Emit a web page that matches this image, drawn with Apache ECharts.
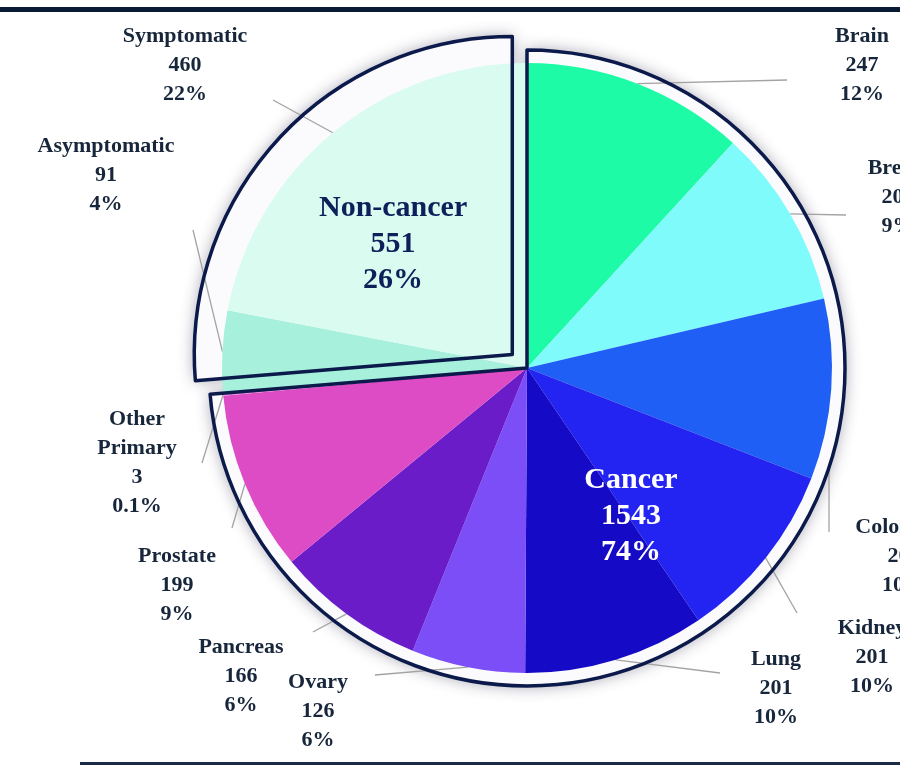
<!DOCTYPE html>
<html>
<head>
<meta charset="utf-8">
<script src="https://cdn.jsdelivr.net/npm/echarts@6/dist/echarts.min.js"></script>
<style>
  html, body { margin: 0; padding: 0; background: #fff; }
  #chart { width: 900px; height: 769px; }
</style>
</head>
<body>
<div id="chart"></div>
<script>
// slices, clockwise from 12 o'clock
const categories = ['Brain', 'Breast', 'Colorectal', 'Kidney', 'Lung', 'Ovary', 'Pancreas', 'Prostate', 'Other Primary', 'Asymptomatic', 'Symptomatic'];
const values = [247, 200, 200, 201, 201, 126, 166, 199, 3, 91, 460];
const pctLabels = ['12%', '9%', '10%', '10%', '10%', '6%', '6%', '9%', '0.1%', '4%', '22%'];
const groupNames = ['Cancer', 'Non-cancer'];
const groupSize = [9, 2]; // how many slices belong to each group
const groupPct = ['74%', '26%'];

const sliceColors = ['#1dfba6', '#80fbfb', '#1f5ff5', '#2424f2', '#150ac6', '#7b4ef7', '#6a1cc9', '#dd4cc4', '#e27ad8', '#a6f0dc', '#d9fbf0'];

// group totals from the slice values
const groupValues = [];
let k = 0;
groupSize.forEach(n => {
  let s = 0;
  for (let j = 0; j < n; j++) s += values[k++];
  groupValues.push(s);
});

const CX = 527, CY = 368, R = 305, R_OUT = 318;
const total = values.reduce((a, b) => a + b, 0);

// label placement (block centre) and leader line end
const labelSpots = [[862, 65], [898, 197], [904, 556], [872, 657], [776, 688], [318, 711], [241, 676], [177, 585], [137, 463], [106, 175], [185, 65]];
const lineEnds = [[787, 80], [846, 215], [829, 532], [797, 613], [720, 673], [375, 675], [313, 632], [232, 528], [202, 463], [193, 230], [273, 100]];
const lineStartFix = { 2: [829, 470] };

function edgePoint(i) {
  let cum = 0;
  for (let j = 0; j < i; j++) cum += values[j];
  const a = (cum + values[i] / 2) / total * Math.PI * 2;
  return [CX + R * Math.sin(a), CY - R * Math.cos(a)];
}

const labelColor = '#17263a';
const serif = '"Liberation Serif", "Times New Roman", serif';

var myChart = echarts.init(document.getElementById('chart'));

const groupData = groupNames.map((n, i) => ({
  name: n,
  value: groupValues[i],
  selected: i === 1
}));

const option = {
  animation: false,
  backgroundColor: '#fff',
  graphic: [
    { type: 'rect', shape: { x: 0, y: 7, width: 900, height: 5 }, style: { fill: '#0b1a33' }, silent: true },
    { type: 'rect', shape: { x: 80, y: 762, width: 820, height: 3 }, style: { fill: '#1b2b45' }, silent: true }
  ],
  series: [
    // white band + shadow under the group outlines
    {
      type: 'pie',
      silent: true,
      center: [CX, CY],
      radius: R_OUT,
      startAngle: 90,
      selectedMode: 'single',
      selectedOffset: 20,
      label: { show: false },
      labelLine: { show: false },
      itemStyle: {
        color: '#fbfbfd',
        shadowBlur: 16,
        shadowColor: 'rgba(40,40,70,0.45)'
      },
      data: groupData,
      z: 1
    },
    // the slices
    {
      type: 'pie',
      silent: true,
      center: [CX, CY],
      radius: R,
      startAngle: 90,
      avoidLabelOverlap: false,
      data: categories.map((c, i) => ({
        name: c,
        value: values[i],
        itemStyle: { color: sliceColors[i] }
      })),
      label: {
        show: true,
        position: 'outside',
        fontFamily: serif,
        fontWeight: 'bold',
        fontSize: 22,
        lineHeight: 29,
        color: labelColor,
        align: 'center',
        formatter(p) {
          return p.name.replace(' ', '\n') + '\n' + p.value + '\n' + pctLabels[p.dataIndex];
        }
      },
      labelLine: {
        show: true,
        lineStyle: { color: '#a3a3a3', width: 1.3 }
      },
      labelLayout(params) {
        const i = params.dataIndex;
        const start = lineStartFix[i] || edgePoint(i);
        return {
          x: labelSpots[i][0],
          y: labelSpots[i][1],
          align: 'center',
          verticalAlign: 'middle',
          labelLinePoints: [start, lineEnds[i]]
        };
      },
      z: 2
    },
    // navy outlines of the two groups + group text
    {
      type: 'pie',
      silent: true,
      center: [CX, CY],
      radius: R_OUT,
      startAngle: 90,
      selectedMode: 'single',
      selectedOffset: 20,
      itemStyle: {
        color: 'rgba(0,0,0,0)',
        borderColor: '#0b1a4a',
        borderWidth: 3.5
      },
      label: {
        show: true,
        position: 'inside',
        fontFamily: serif,
        fontWeight: 'bold',
        fontSize: 30,
        lineHeight: 36,
        align: 'center',
        formatter(p) {
          return p.name + '\n' + p.value + '\n' + groupPct[p.dataIndex];
        },
        color: '#0e1f5a'
      },
      labelLine: { show: false },
      labelLayout(params) {
        const spots = [[631, 516], [378, 254]];
        return { x: spots[params.dataIndex][0], y: spots[params.dataIndex][1], align: 'center', verticalAlign: 'middle' };
      },
      data: groupData.map((d, i) => Object.assign({}, d, {
        label: { color: i === 0 ? '#ffffff' : '#0e1f5a' }
      })),
      z: 3
    }
  ]
};

myChart.setOption(option, true);
window.addEventListener('resize', () => {
  myChart.resize();
});
</script>
</body>
</html>
